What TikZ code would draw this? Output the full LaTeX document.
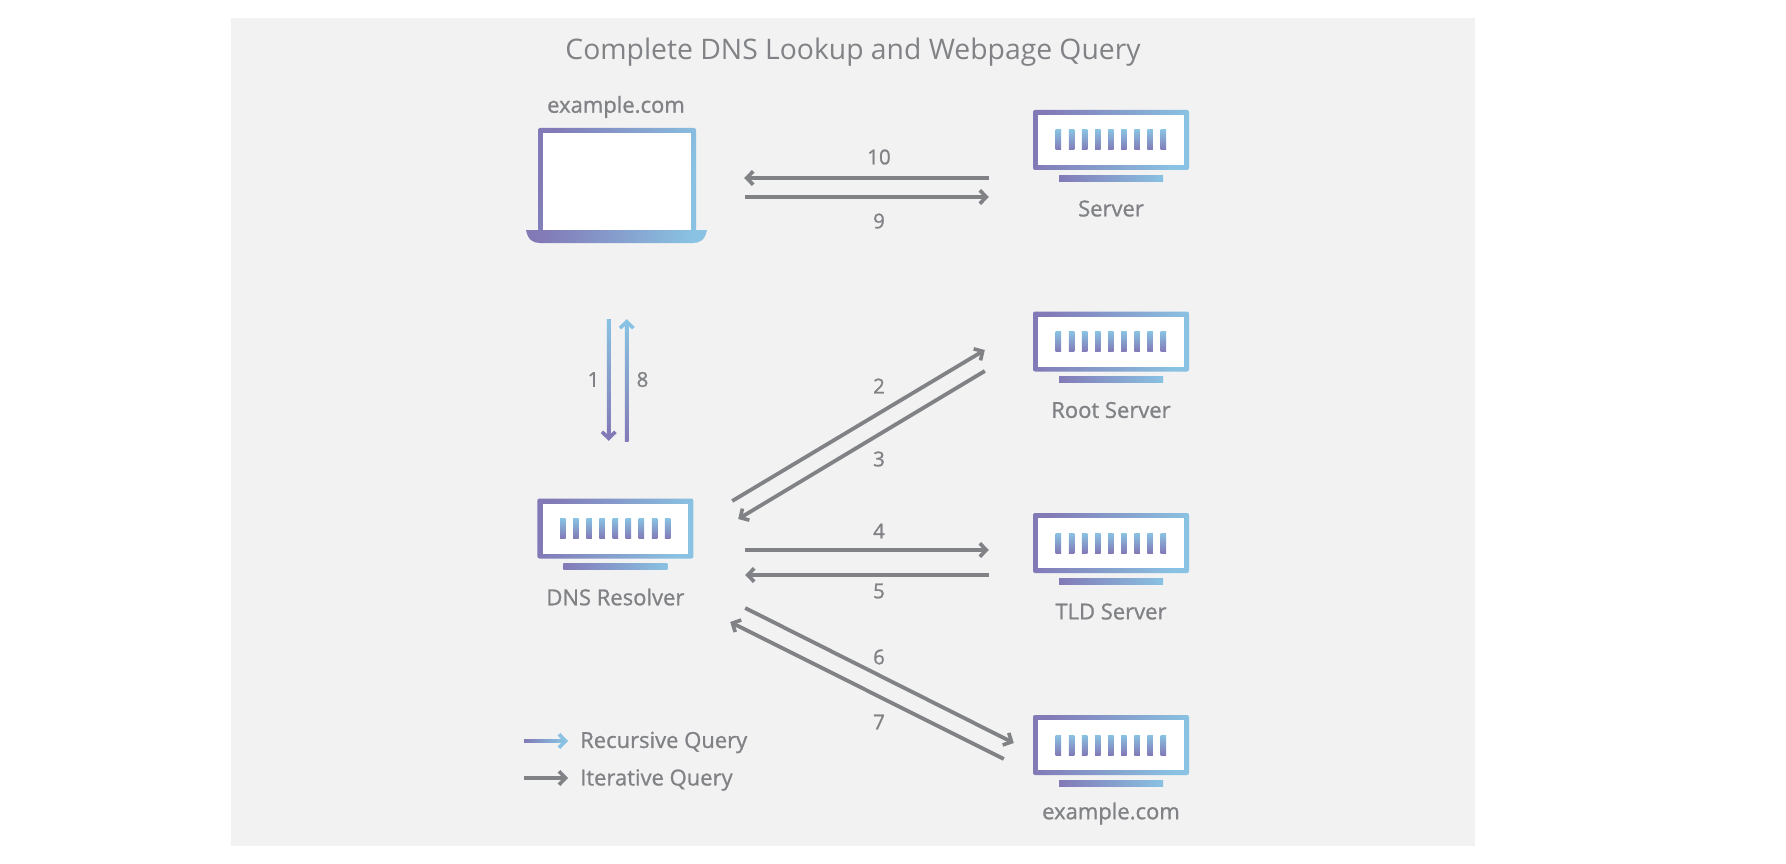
\documentclass[tikz,border=0pt]{standalone}
\usepackage{fontspec}
\setmainfont{Open Sans}
\newfontfamily\medfont[FakeBold=1]{Open Sans}
\usepackage{tikz}
\usetikzlibrary{arrows.meta}
\definecolor{dnspurple}{RGB}{130,122,183}
\definecolor{dnsblue}{RGB}{137,194,226}
\definecolor{dnsgrey}{RGB}{128,130,133}
\definecolor{dnspanel}{RGB}{242,242,242}
\tikzset{
    gradbox/.style={shade,left color=dnspurple,right color=dnsblue,shading angle=75},
    devframe/.style={gradbox,rounded corners=2pt,inner sep=0pt,minimum width=156pt,minimum height=60pt},
    devscreen/.style={fill=white,inner sep=0pt,minimum width=145.5pt,minimum height=50pt},
    devbar/.style={shade,bottom color=dnspurple,top color=dnsblue},
    devlabel/.style={text=dnsgrey,font=\medfont\fontsize{22}{26}\selectfont},
    stepnum/.style={text=dnsgrey,font=\medfont\fontsize{20.5}{24}\selectfont},
    iterarrow/.style={draw=dnsgrey,line width=3.8pt,-{Straight Barb[length=6.5pt,width=13.5pt,line width=3.6pt]}},
    recarrow/.style={line width=3.6pt,-{Straight Barb[length=6.5pt,width=13.5pt,line width=3.6pt]}},
}
\begin{document}
\begin{tikzpicture}[x=1pt,y=-1pt]
    \useasboundingbox (0,0) rectangle (1786,864);
    \fill[dnspanel] (231,18) rectangle (1475,846);
    \node[text=dnsgrey,font=\fontsize{28.3}{34}\selectfont] (title) at (853,52) {Complete DNS Lookup and Webpage Query};

    % laptop
    \node[devlabel] (laptoplabel) at (616,107) {example.com};
    \node[gradbox,rounded corners=2pt,inner sep=0pt,minimum width=158pt,minimum height=103pt] (laptop) at (617,179.5) {};
    \shade[gradbox] (526,230) -- (707,230) .. controls (705,240) and (700,243) .. (693,243) -- (540,243) .. controls (533,243) and (528,240) .. (526,230) -- cycle;
    \node[fill=white,inner sep=0pt,minimum width=148pt,minimum height=97pt] (laptopscreen) at (617,181.5) {};

    % servers
    \foreach \name/\cx/\cy/\lbl in {server/1111/140/Server,root/1111/341.5/Root Server,tld/1111/543/TLD Server,web/1111/745/example.com,resolver/615.4/528.5/DNS Resolver} {
        \node[devframe] (\name) at (\cx,\cy) {};
        \node[devscreen] (\name screen) at (\cx,\cy) {};
        \foreach \i in {0,...,8} {
            \shade[devbar] ([shift={(-55.3+13.1*\i,-10)}]\name.center) rectangle ++(5.5,20);
        }
        \shade[left color=dnspurple,right color=dnsblue] ([shift={(-52,35)}]\name.center) rectangle ++(104,6);
        \node[devlabel] (\name label) at (\cx,\cy+68.5) {\lbl};
    }

    % iterative queries
    \draw[iterarrow] ([shift={(-44,38)}]server.west) -- ([shift={(48,-1.5)}]laptop.east);
    \draw[iterarrow] ([shift={(49,17.5)}]laptop.east) -- ([shift={(-44,57)}]server.west);
    \draw[iterarrow] ([shift={(38.6,-27.5)}]resolver.east) -- ([shift={(-48,8.5)}]root.west);
    \draw[iterarrow] ([shift={(-48,29.5)}]root.west) -- ([shift={(44.6,-9.5)}]resolver.east);
    \draw[iterarrow] ([shift={(51.6,21.5)}]resolver.east) -- ([shift={(-44,7)}]tld.west);
    \draw[iterarrow] ([shift={(-44,32)}]tld.west) -- ([shift={(51.6,46.5)}]resolver.east);
    \draw[iterarrow] ([shift={(51.6,79.5)}]resolver.east) -- ([shift={(-19,-2)}]web.west);
    \draw[iterarrow] ([shift={(-29,14)}]web.west) -- ([shift={(36.6,93.5)}]resolver.east);

    % recursive queries
    \draw[recarrow,dnspurple] ([shift={(-8.3,88)}]laptop.south) -- ([shift={(-6.7,-57.5)}]resolver.north);
    \shade[top color=dnsblue,bottom color=dnspurple] (606.9,319) rectangle (610.5,436);
    \draw[recarrow,dnsblue] ([shift={(11.3,-57.5)}]resolver.north) -- ([shift={(9.7,88)}]laptop.south);
    \shade[top color=dnsblue,bottom color=dnspurple] (624.9,324) rectangle (628.5,441);

    % step numbers
    \foreach \num/\x/\y in {10/879/157,9/879/221,1/593.5/379.5,8/642.5/379.5,2/879/386,3/879/459,4/879/531,5/879/591,6/879/657,7/879/722} {
        \node[stepnum] (step\num) at (\x,\y) {\num};
    }

    % legend
    \node[devlabel,anchor=west,inner sep=0pt] (recursivelabel) at (580,742.5) {Recursive Query};
    \node[devlabel,anchor=west,inner sep=0pt] (iterativelabel) at (580,780) {Iterative Query};
    \coordinate (recursivestart) at (524,741);
    \coordinate (iterativestart) at (524,778);
    \draw[recarrow,dnsblue] (recursivestart) -- ([shift={(-12,-1.5)}]recursivelabel.west);
    \shade[left color=dnspurple,right color=dnsblue] (524,739.2) rectangle (563,742.8);
    \draw[iterarrow] (iterativestart) -- ([shift={(-12,-2)}]iterativelabel.west);
\end{tikzpicture}
\end{document}
